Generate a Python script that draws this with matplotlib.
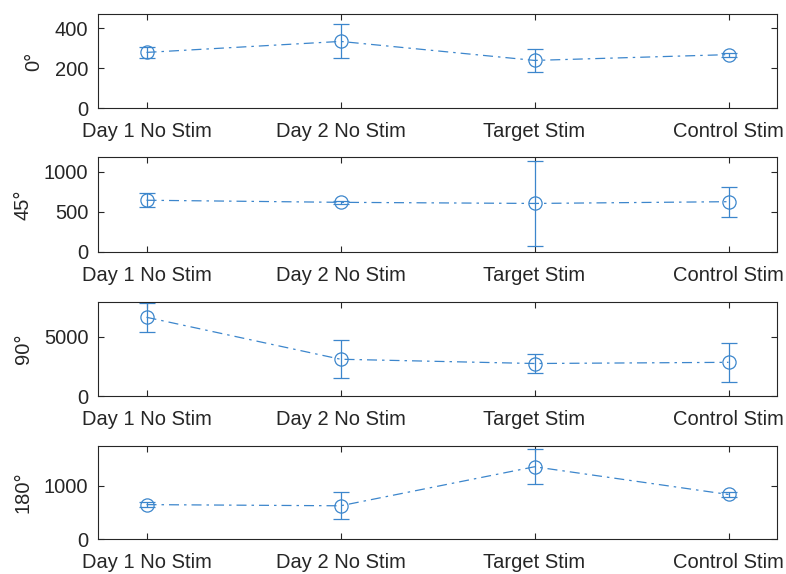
import matplotlib
matplotlib.use("Agg")
import matplotlib.pyplot as plt

plt.rcParams['font.family'] = ['Liberation Sans', 'DejaVu Sans']

categories = ["Day 1 No Stim", "Day 2 No Stim", "Target Stim", "Control Stim"]
angle_labels = ["0°", "45°", "90°", "180°"]

mean_0 = [278, 333, 238, 267]
err_0 = [27, 85, 56, 10]
mean_45 = [643, 617, 603, 625]
err_45 = [88, 15, 527, 187]
mean_90 = [6640, 3100, 2740, 2840]
err_90 = [1240, 1610, 800, 1640]
mean_180 = [650, 628, 1360, 840]
err_180 = [40, 252, 330, 40]

y_limits = [(0, 470), (0, 1180), (0, 7900), (0, 1756)]
y_ticks = [[0, 200, 400], [0, 500, 1000], [0, 5000], [0, 1000]]

means = [mean_0, mean_45, mean_90, mean_180]
errs = [err_0, err_45, err_90, err_180]

line_color = '#3C86CC'
axis_color = '#262626'

fig = plt.figure(figsize=(7.86, 5.74), dpi=100)

# panel rectangles: [left, bottom, width, height] in figure fractions
panel_rects = [
    [0.1247, 0.8118, 0.8639, 0.1638],
    [0.1247, 0.5615, 0.8639, 0.1645],
    [0.1247, 0.3101, 0.8639, 0.1632],
    [0.1247, 0.0605, 0.8639, 0.1631],
]

x = list(range(1, len(categories) + 1))

for rect, m, e, lab, yl, yt in zip(panel_rects, means, errs, angle_labels, y_limits, y_ticks):
    ax = fig.add_axes(rect)
    ax.errorbar(x, m, yerr=e, color=line_color, linestyle=(0, (8, 4, 2, 4)),
                linewidth=0.9, marker='o', markersize=9.5, markerfacecolor='none',
                markeredgewidth=0.9, capsize=5.5, capthick=0.9, elinewidth=0.9,
                clip_on=True)
    ax.set_xlim(0.75, 4.25)
    ax.set_ylim(*yl)
    ax.set_xticks(x)
    ax.set_xticklabels(categories)
    ax.set_yticks(yt)
    ax.set_ylabel(lab, fontsize=14.5, color=axis_color, labelpad=8)
    ax.tick_params(direction='in', length=4, width=0.8, top=True, right=True,
                   colors=axis_color, labelsize=14.5)
    ax.tick_params(axis='x', pad=10)
    ax.tick_params(axis='y', pad=7)
    for s in ax.spines.values():
        s.set_color(axis_color)
        s.set_linewidth(0.8)

fig.savefig("out.png", dpi=100, facecolor='white')
